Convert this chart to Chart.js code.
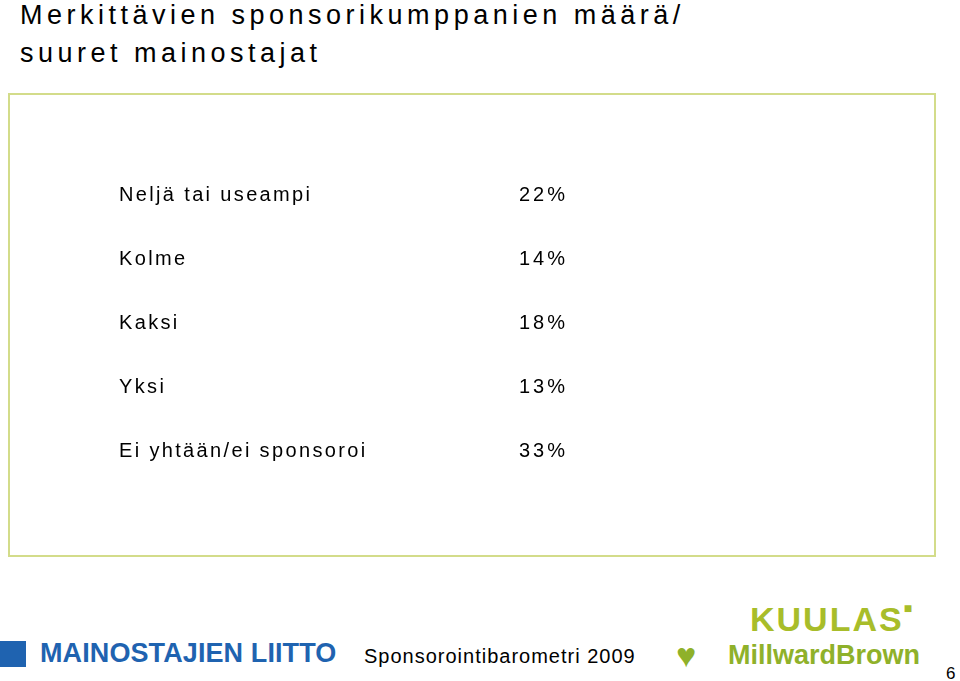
<!DOCTYPE html>
<html><head><meta charset="utf-8">
<script src="https://cdn.jsdelivr.net/npm/chart.js@4"></script>
<style>
body{margin:0;width:960px;height:681px;background:#fff;font-family:"Liberation Sans",Arial,sans-serif;position:relative;overflow:hidden}
#title{position:absolute;left:20px;top:-4px;font-size:27px;line-height:38px;letter-spacing:4.5px;word-spacing:0px;color:#000}
#box{position:absolute;left:8px;top:93px;width:924px;height:460px;border:2px solid #d3dc8a}
#wrap{position:absolute;left:8px;top:93px;width:926px;height:462px}
.f{position:absolute;white-space:nowrap}
</style></head><body>
<div id="title">Merkittävien sponsorikumppanien määrä/<br>suuret mainostajat</div>
<div id="box"></div>
<div id="wrap"><canvas id="c"></canvas></div>
<div class="f" style="left:0;top:641px;width:26px;height:26px;background:#1f63b0"></div>
<div class="f" style="left:40px;top:638px;font-size:27px;font-weight:bold;color:#1f63b0;letter-spacing:0.1px">MAINOSTAJIEN LIITTO</div>
<div class="f" style="left:364px;top:645px;font-size:20px;letter-spacing:1px;color:#000">Sponsorointibarometri 2009</div>
<div class="f" style="left:750px;top:600px;font-size:34px;font-weight:bold;color:#a8bd2a;letter-spacing:2px">KUULAS<span style="font-size:14px;vertical-align:top">■</span></div>
<div class="f" style="left:676px;top:636px;font-size:34px;color:#8fb12a">♥</div>
<div class="f" style="left:728px;top:640px;font-size:27px;font-weight:bold;color:#8fb12a">MillwardBrown</div>
<div class="f" style="left:946px;top:664px;font-size:17px;color:#000">6</div>
<script>
const categories=["Neljä tai useampi","Kolme","Kaksi","Yksi","Ei yhtään/ei sponsoroi"];
const values=[22,14,18,13,33];
const valueLabels=["22%","14%","18%","13%","33%"];
const valPlugin={id:'vals',
 beforeDraw(ch){ch.ctx.letterSpacing='2.35px';},
 afterDraw(ch){const ctx=ch.ctx,y=ch.scales.y;ctx.save();ctx.letterSpacing='3px';
  ctx.font='20px "Liberation Sans", Arial';ctx.fillStyle='#000';ctx.textAlign='right';ctx.textBaseline='middle';
  valueLabels.forEach((t,i)=>ctx.fillText(t,560,y.getPixelForValue(i)));ctx.restore();}};
new Chart(document.getElementById('c'),{type:'bar',
 data:{labels:categories,datasets:[{data:values,backgroundColor:'rgba(0,0,0,0)'}]},
 options:{indexAxis:'y',responsive:true,maintainAspectRatio:false,animation:false,
  layout:{padding:{left:111,top:70,bottom:72,right:20}},
  plugins:{legend:{display:false},tooltip:{enabled:false}},
  scales:{x:{display:false,min:0,max:100},
   y:{border:{display:false},grid:{display:false},afterFit(s){s.width=320;},
    ticks:{crossAlign:'far',color:'#000',font:{family:'"Liberation Sans", Arial',size:20},padding:0}}}},
 plugins:[valPlugin]});
</script></body></html>
